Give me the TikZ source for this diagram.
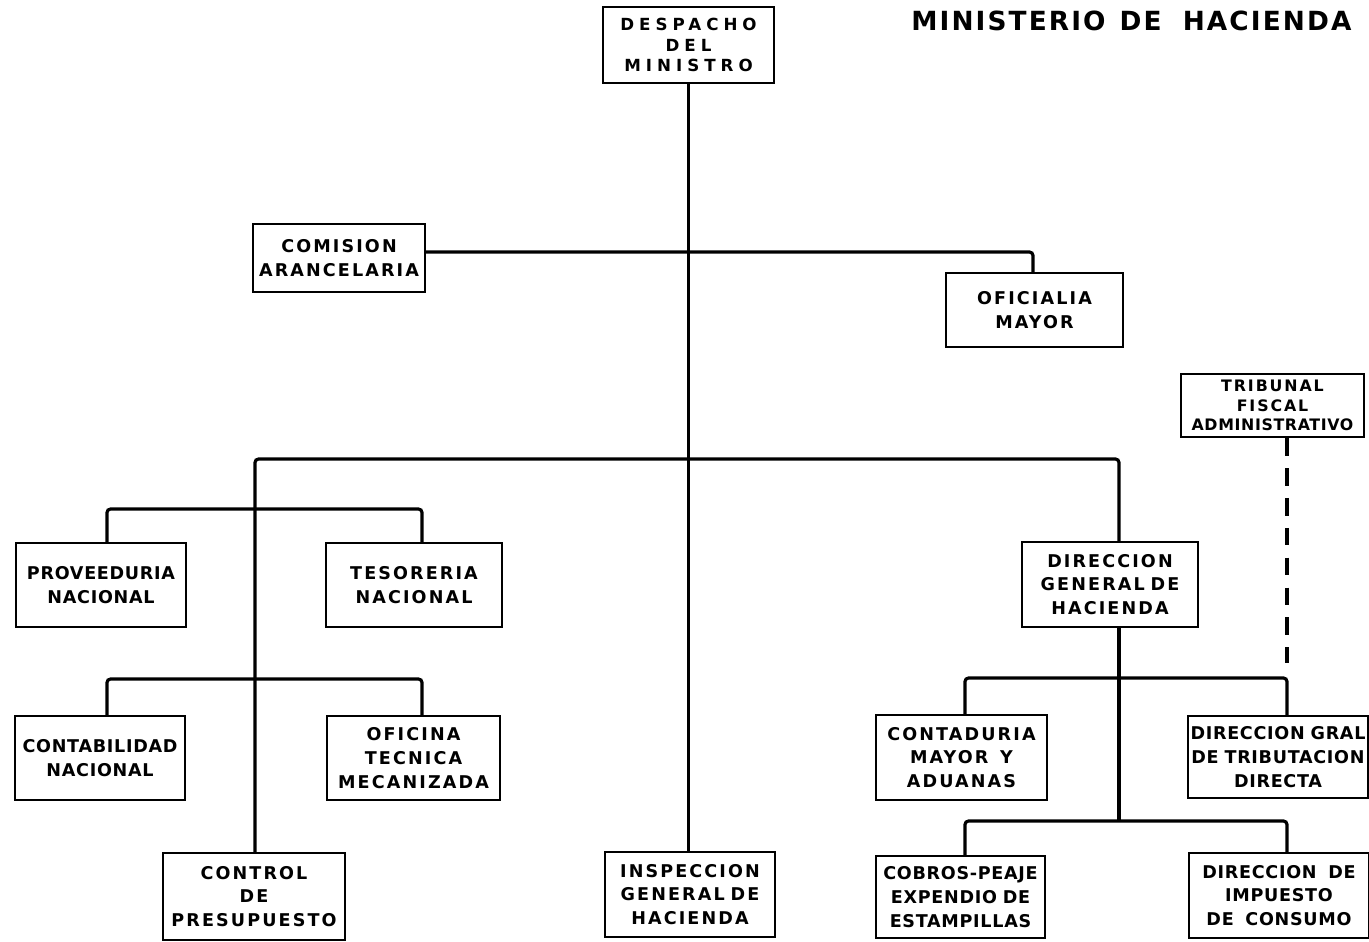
\documentclass[tikz,border=0pt]{standalone}
\usepackage{fontspec}
\newfontfamily\boxfont{DejaVu Sans}[LetterSpace=12]
\newfontfamily\tightfont{DejaVu Sans}[LetterSpace=4]
\newfontfamily\widefont{DejaVu Sans}[LetterSpace=30]
\newfontfamily\titlefont{DejaVu Sans}[LetterSpace=8]

\begin{document}
\begin{tikzpicture}[%
    x=0.02cm,
    y=-0.02cm,
    box/.style={
      rectangle,
      draw,
      line width=1.4pt,
      align=center,
      inner sep=0pt,
      font=\boxfont\bfseries\fontsize{10}{13.5}\selectfont
    },
    tight/.style={
      font=\tightfont\bfseries\fontsize{10}{13.5}\selectfont
    },
    wide/.style={
      font=\widefont\bfseries\fontsize{9.5}{11.5}\selectfont
    },
    small/.style={
      font=\boxfont\bfseries\fontsize{9}{11}\selectfont
    },
    link/.style={
      line width=1.8pt,
      rounded corners=2pt
    },
    dashlink/.style={
      line width=1.8pt,
      dash pattern=on 10pt off 7pt
    },
  ]
    \useasboundingbox (0,0) rectangle (1369,942);

    \node[anchor=base west, inner sep=0pt,
      font=\titlefont\bfseries\fontsize{15}{18}\selectfont] (titulo)
      at (911,30.5) {MINISTERIO\hspace{8pt}DE\hspace{12pt}HACIENDA};

    % top of the chart
    \node[box, wide, text width=3.42cm, minimum height=1.52cm] (despacho) at (688.5,45) {DESPACHO\\DEL\\MINISTRO};
    \node[box, text width=3.44cm, minimum height=1.36cm] (comision) at (339,258) {COMISION\\ARANCELARIA};
    \node[box, text width=3.54cm, minimum height=1.48cm] (oficialia) at (1034.5,310) {OFICIALIA\\MAYOR};
    \node[box, small, text width=3.66cm, minimum height=1.26cm] (tribunal) at (1272.5,405.5) {TRIBUNAL\\FISCAL\\{\tightfont ADMINISTRATIVO}};

    % left branches
    \node[box, tight, text width=3.40cm, minimum height=1.68cm] (proveeduria) at (101,585) {PROVEEDURIA\\NACIONAL};
    \node[box, text width=3.52cm, minimum height=1.68cm] (tesoreria) at (414,585) {TESORERIA\\NACIONAL};
    \node[box, tight, text width=3.40cm, minimum height=1.68cm] (contabilidad) at (100,758) {CONTABILIDAD\\NACIONAL};
    \node[box, text width=3.46cm, minimum height=1.68cm] (oficina) at (413.5,758) {OFICINA\\TECNICA\\MECANIZADA};
    \node[box, text width=3.64cm, minimum height=1.74cm] (control) at (254,896.5) {CONTROL\\DE\\PRESUPUESTO};
    \node[box, text width=3.40cm, minimum height=1.70cm] (inspeccion) at (690,894.5) {INSPECCION\\GENERAL DE\\HACIENDA};

    % right branches
    \node[box, text width=3.52cm, minimum height=1.70cm] (dirgen) at (1110,584.5) {DIRECCION\\GENERAL DE\\HACIENDA};
    \node[box, text width=3.42cm, minimum height=1.70cm] (contaduria) at (961.5,757.5) {CONTADURIA\\MAYOR\ \ Y\\ADUANAS};
    \node[box, tight, text width=3.60cm, minimum height=1.64cm] (tributacion) at (1278,757) {DIRECCION GRAL\\DE TRIBUTACION\\DIRECTA};
    \node[box, tight, text width=3.38cm, minimum height=1.64cm] (cobros) at (960.5,897) {COBROS-PEAJE\\EXPENDIO DE\\ESTAMPILLAS};
    \node[box, tight, text width=3.60cm, minimum height=1.70cm] (consumo) at (1279,895.5) {DIRECCION\ \ DE\\IMPUESTO\\DE\ \ CONSUMO};

    % junctions
    \coordinate (topbar) at (1033,252);
    \coordinate (leftbar) at (255,459);
    \coordinate (rightbar) at (1119,459);
    \coordinate (provJ) at (107,509);
    \coordinate (tesJ) at (422,509);
    \coordinate (contJ) at (107,679);
    \coordinate (ofiJ) at (422,679);
    \coordinate (aduJ) at (965,678);
    \coordinate (tribJ) at (1287,678);
    \coordinate (dgfoot) at (1119,821);
    \coordinate (cobJ) at (965,821);
    \coordinate (consJ) at (1287,821);
    \coordinate (dashend) at (1287,663);

    \draw[link] (despacho.south) -- (despacho.south |- inspeccion.north);
    \draw[link] (comision.east |- topbar) -| (oficialia.north -| topbar);
    \draw[link] (control.north -| leftbar) -- (leftbar) -- (rightbar) -- (dirgen.north -| rightbar);
    \draw[link] (proveeduria.north -| provJ) -- (provJ) -- (tesJ) -- (tesoreria.north -| tesJ);
    \draw[link] (contabilidad.north -| contJ) -- (contJ) -- (ofiJ) -- (oficina.north -| ofiJ);
    \draw[link] (dirgen.south -| rightbar) -- (dgfoot);
    \draw[link] (contaduria.north -| aduJ) -- (aduJ) -- (tribJ) -- (tributacion.north -| tribJ);
    \draw[link] (cobros.north -| cobJ) -- (cobJ) -- (consJ) -- (consumo.north -| consJ);
    \draw[dashlink] (tribunal.south -| tribJ) -- (dashend);
  \end{tikzpicture}
\end{document}
